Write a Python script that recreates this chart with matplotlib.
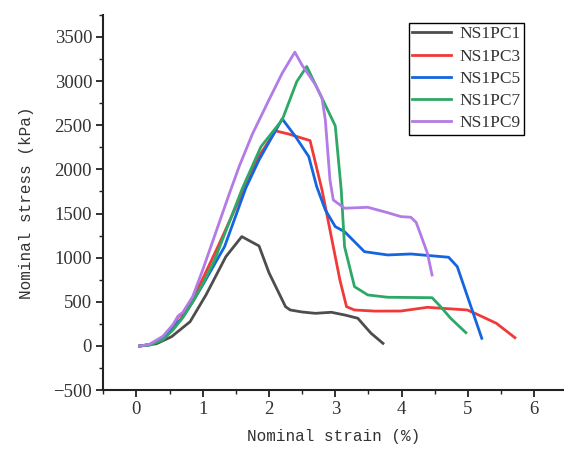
#!/usr/bin/env python3

# Stress-strain curves for the NS1PC specimens.

import matplotlib
matplotlib.use("Agg")
from matplotlib import pyplot as plt
from matplotlib.ticker import MultipleLocator

labels = ["NS1PC1", "NS1PC3", "NS1PC5", "NS1PC7", "NS1PC9"]
colors = ["#4d4d4d", "#f03a3a", "#1565e0", "#2ea866", "#b27be6"]

# strain (%), stress (kPa)
pc1_x = [0.05, 0.3, 0.53, 0.81, 1.05, 1.35, 1.59, 1.85, 2.0, 2.25, 2.32, 2.5, 2.7, 2.94, 3.15, 3.34, 3.45, 3.54, 3.72]
pc1_y = [0, 25, 105, 275, 578, 1012, 1239, 1133, 830, 445, 408, 385, 370, 382, 350, 314, 220, 144, 30]

pc3_x = [0.05, 0.2, 0.4, 0.55, 0.63, 0.7, 0.85, 1.0, 1.23, 1.63, 1.85, 2.1, 2.3, 2.62, 2.8, 2.9, 3.07, 3.17, 3.29,
         3.6, 3.99, 4.39, 4.99, 5.13, 5.43, 5.71]
pc3_y = [0, 15, 95, 220, 330, 370, 540, 760, 1125, 1787, 2150, 2436, 2400, 2326, 1767, 1390, 748, 445, 408,
         395, 396, 438, 408, 362, 257, 94]

pc5_x = [0.05, 0.2, 0.4, 0.55, 0.7, 0.85, 1.0, 1.33, 1.65, 1.85, 2.2, 2.4, 2.6, 2.72, 2.85, 3.0, 3.14, 3.44,
         3.79, 4.14, 4.71, 4.84, 5.21]
pc5_y = [0, 15, 90, 200, 330, 500, 690, 1125, 1787, 2107, 2572, 2372, 2145, 1805, 1541, 1352, 1295, 1068,
         1031, 1042, 1005, 899, 87]

pc7_x = [0.05, 0.2, 0.4, 0.55, 0.7, 0.85, 1.0, 1.18, 1.6, 1.88, 2.2, 2.42, 2.57, 2.8, 3.0, 3.09, 3.14, 3.29,
         3.49, 3.79, 4.46, 4.59, 4.74, 4.97]
pc7_y = [0, 10, 70, 180, 320, 500, 700, 974, 1787, 2258, 2561, 2995, 3165, 2807, 2493, 1767, 1125, 672,
         578, 552, 547, 445, 314, 151]

pc9_x = [0.05, 0.2, 0.4, 0.55, 0.63, 0.7, 0.85, 1.0, 1.2, 1.4, 1.55, 1.75, 2.0, 2.2, 2.39, 2.5, 2.7, 2.8, 2.85,
         2.92, 2.97, 3.14, 3.49, 3.79, 3.99, 4.14, 4.22, 4.29, 4.39, 4.46]
pc9_y = [0, 20, 110, 240, 340, 380, 560, 860, 1290, 1720, 2032, 2400, 2787, 3090, 3328, 3180, 2960, 2807, 2561,
         1881, 1654, 1560, 1571, 1510, 1465, 1458, 1400, 1258, 1050, 804]

strain = [pc1_x, pc3_x, pc5_x, pc7_x, pc9_x]
stress = [pc1_y, pc3_y, pc5_y, pc7_y, pc9_y]

fig = plt.figure(figsize=(5.64, 4.5), dpi=100)
ax = fig.add_axes([0.183, 0.133, 0.817, 0.834])

for x, y, c, lab in zip(strain, stress, colors, labels):
    ax.plot(x, y, color=c, lw=2.0, label=lab, solid_joinstyle="round")

ax.set_xlim(-0.5, 6.45)
ax.set_ylim(-500, 3750)
ax.xaxis.set_major_locator(MultipleLocator(1))
ax.xaxis.set_minor_locator(MultipleLocator(0.5))
ax.yaxis.set_major_locator(MultipleLocator(500))
ax.yaxis.set_minor_locator(MultipleLocator(250))

for side in ["top", "right"]:
    ax.spines[side].set_visible(False)
for side in ["left", "bottom"]:
    ax.spines[side].set_linewidth(1.5)
    ax.spines[side].set_color("#222222")

ax.tick_params(which="major", direction="out", length=5, width=1.3, colors="#222222",
               labelsize=13.5, pad=3)
ax.tick_params(which="minor", direction="out", length=3, width=1.0, colors="#222222")
for t in ax.get_xticklabels() + ax.get_yticklabels():
    t.set_fontfamily("Liberation Serif")
    t.set_color("#333333")

ax.set_xlabel("Nominal strain (%)", fontfamily="Liberation Mono", fontsize=11.5, color="#333333", labelpad=8)
ax.set_ylabel("Nominal stress (kPa)", fontfamily="Liberation Mono", fontsize=11.5, color="#333333", labelpad=14)

leg = ax.legend(loc="upper right", bbox_to_anchor=(0.913, 0.979), frameon=True, fancybox=False,
                edgecolor="black", framealpha=1, handlelength=2.2, handletextpad=0.5,
                labelspacing=0.35, borderpad=0.2, borderaxespad=0,
                prop={"family": "Liberation Serif", "size": 12.5})
leg.get_frame().set_linewidth(1.0)
for t in leg.get_texts():
    t.set_color("#333333")

plt.savefig("out.png")
plt.close()
